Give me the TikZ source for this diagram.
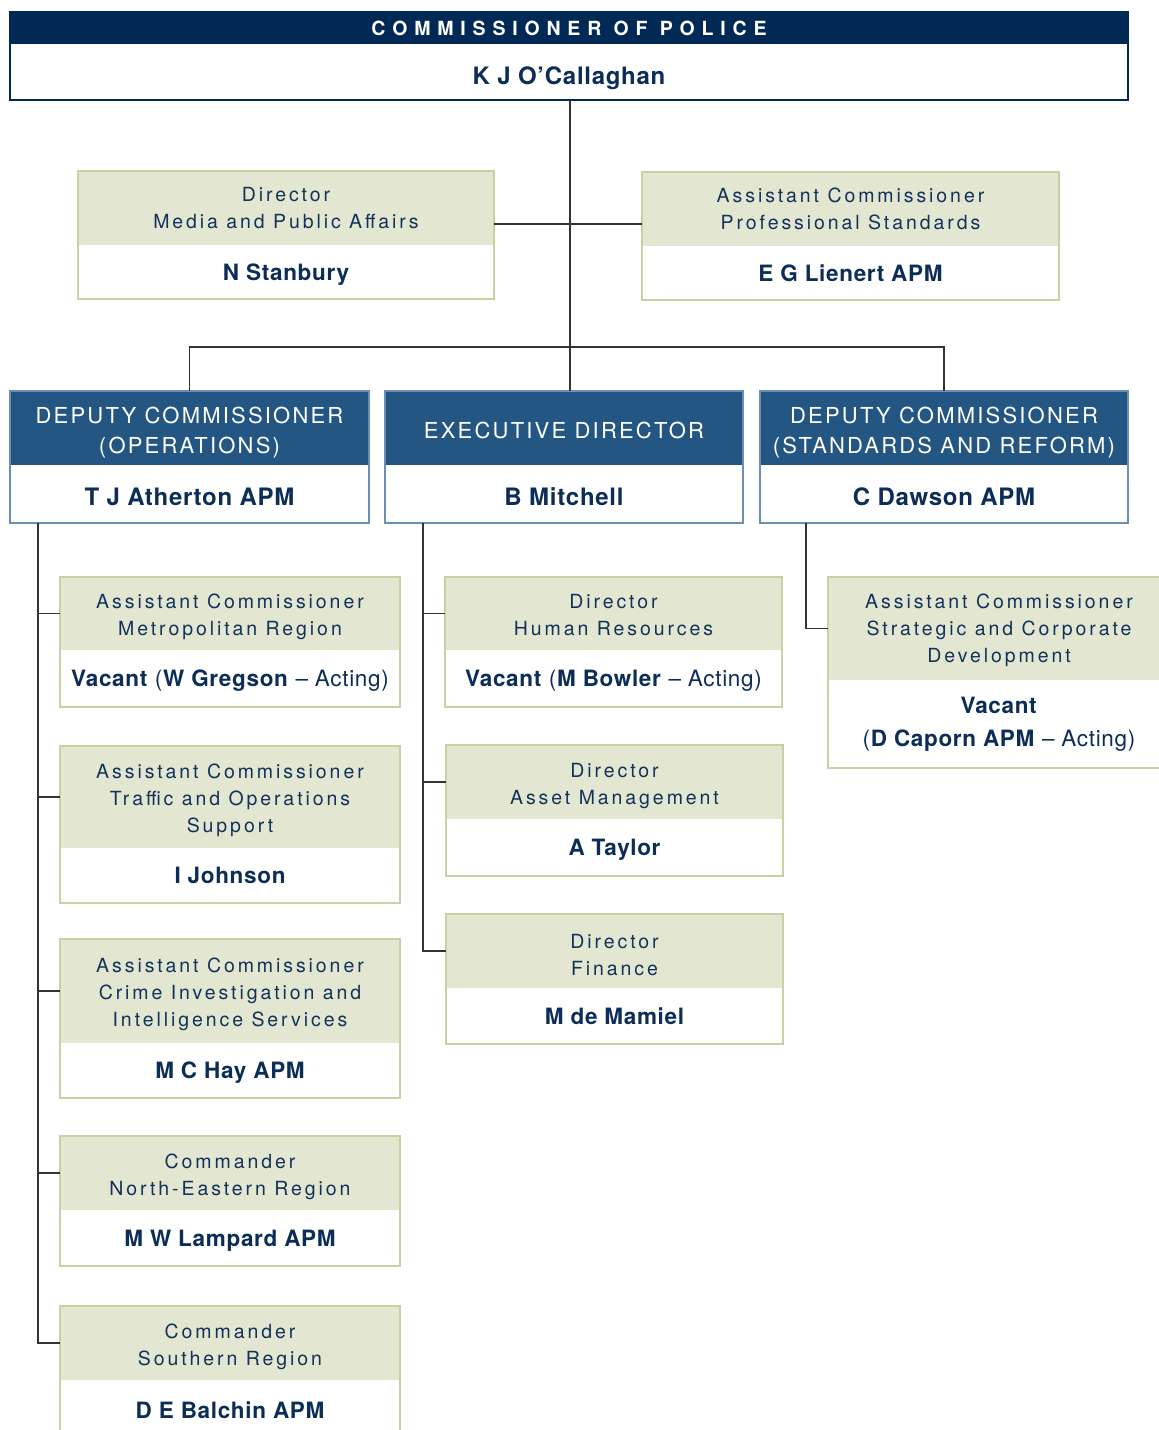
\documentclass[tikz,border=0pt]{standalone}
\usepackage{fontspec}
\setmainfont{TeX Gyre Heros}
\newfontfamily\comfont[LetterSpace=35]{TeX Gyre Heros}
\newfontfamily\depfont[LetterSpace=10]{TeX Gyre Heros}
\newfontfamily\ttlfont[LetterSpace=15]{TeX Gyre Heros}
\newfontfamily\namefont[LetterSpace=3]{TeX Gyre Heros}
\newcommand{\myup}{\rule{0pt}{21.5pt}}
\newcommand{\myhalfup}{\rule{0pt}{18pt}}
\newcommand{\mydepup}{\rule{0pt}{25pt}}
\definecolor{navy}{HTML}{002A55}
\definecolor{dblue}{HTML}{245683}
\definecolor{beige}{HTML}{E3E6D1}
\definecolor{bborder}{HTML}{C9D0A2}
\definecolor{dborder}{HTML}{6A8FB3}
\definecolor{tnavy}{HTML}{12325A}
\definecolor{nnavy}{HTML}{0B2D57}
\definecolor{lgray}{HTML}{333333}
\tikzset{
 box/.style={inner sep=0pt, outer sep=0pt, anchor=north west, align=center},
 ttl/.style={box, fill=beige, text=tnavy, font=\ttlfont\fontsize{19.5}{27}\selectfont},
 nm2/.style={box, fill=white, text=nnavy, font=\namefont\fontsize{22.5}{33}\selectfont},
 nm/.style={nm2, text height=16pt, text depth=0pt},
 bignm/.style={box, fill=white, text=nnavy, font=\namefont\fontsize{24}{33}\selectfont, text height=23pt, text depth=0pt},
 dep/.style={box, fill=dblue, text=white, font=\depfont\fontsize{22}{30}\selectfont},
 bord/.style={draw=bborder, line width=1.2pt},
 dbord/.style={draw=dborder, line width=1.2pt},
 conn/.style={draw=lgray, line width=1.3pt},
}
\begin{document}
\begin{tikzpicture}[x=1pt,y=-1pt]
\useasboundingbox[fill=white] (0,0) rectangle (1159,1430);
% connector junctions
\coordinate (j1) at (570,224);
\coordinate (bus) at (570,347);
\coordinate (lx) at (38,523);
\coordinate (mx) at (423,523);
\coordinate (rx) at (806,523);
% commissioner
\node[box, fill=navy, text=white, font=\comfont\bfseries\fontsize{19.5}{20}\selectfont, text height=14pt, text depth=0pt, minimum width=1118, minimum height=32] (comh) at (10,12) {COMMISSIONER OF POLICE};
\node[bignm, text height=24pt, minimum width=1118, minimum height=56] (comn) at (comh.south west) {\bfseries K J O’Callaghan};
% media
\node[ttl, minimum width=416, minimum height=74] (medh) at (78,171) {Director\\Media and Public Affairs};
\node[nm, minimum width=416, minimum height=54] (medn) at (medh.south west) {\bfseries N Stanbury};
% professional standards
\node[ttl, minimum width=417, minimum height=74] (profh) at (642,172) {Assistant Commissioner\\Professional Standards};
\node[nm, minimum width=417, minimum height=54] (profn) at (profh.south west) {\bfseries E G Lienert APM};
% deputies
\node[dep, minimum width=359, minimum height=74] (dep1h) at (10,391) {\mydepup DEPUTY COMMISSIONER\\(OPERATIONS)};
\node[bignm, minimum width=359, minimum height=58] (dep1n) at (dep1h.south west) {\bfseries T J Atherton APM};
\node[dep, minimum width=358, minimum height=74, text height=21pt, text depth=0pt] (dep2h) at (385,391) {EXECUTIVE DIRECTOR};
\node[bignm, minimum width=358, minimum height=58] (dep2n) at (dep2h.south west) {\bfseries B Mitchell};
\node[dep, minimum width=368, minimum height=74] (dep3h) at (760,391) {\mydepup DEPUTY COMMISSIONER\\(STANDARDS AND REFORM)};
\node[bignm, minimum width=368, minimum height=58] (dep3n) at (dep3h.south west) {\bfseries C Dawson APM};
% left column
\node[ttl, minimum width=340, minimum height=73] (a1h) at (60,577) {\myup Assistant Commissioner\\Metropolitan Region};
\node[nm, minimum width=340, minimum height=57] (a1n) at (a1h.south west) {\textbf{Vacant} (\textbf{W Gregson} – Acting)};
\node[ttl, minimum width=340, minimum height=102] (a2h) at (60,746) {\myup Assistant Commissioner\\Traffic and Operations\\Support};
\node[nm, minimum width=340, minimum height=55] (a2n) at (a2h.south west) {\bfseries I Johnson};
\node[ttl, minimum width=340, minimum height=104] (a3h) at (60,939) {\myup Assistant Commissioner\\Crime Investigation and\\Intelligence Services};
\node[nm, minimum width=340, minimum height=55] (a3n) at (a3h.south west) {\bfseries M C Hay APM};
\node[ttl, minimum width=340, minimum height=74] (a4h) at (60,1136) {\myup Commander\\North-Eastern Region};
\node[nm, minimum width=340, minimum height=56] (a4n) at (a4h.south west) {\bfseries M W Lampard APM};
\node[ttl, minimum width=340, minimum height=74] (a5h) at (60,1306) {\myup Commander\\Southern Region};
\node[nm, minimum width=340, minimum height=60] (a5n) at (a5h.south west) {\bfseries D E Balchin APM};
% middle column
\node[ttl, minimum width=337, minimum height=73] (m1h) at (445,577) {\myhalfup Director\\Human Resources};
\node[nm, minimum width=337, minimum height=57] (m1n) at (m1h.south west) {\textbf{Vacant} (\textbf{M Bowler} – Acting)};
\node[ttl, minimum width=337, minimum height=74] (m2h) at (446,745) {\myup Director\\Asset Management};
\node[nm, minimum width=337, minimum height=57] (m2n) at (m2h.south west) {\bfseries A Taylor};
\node[ttl, minimum width=337, minimum height=74] (m3h) at (446,914) {\myup Director\\Finance};
\node[nm, minimum width=337, minimum height=56] (m3n) at (m3h.south west) {\bfseries M de Mamiel};
% right column
\node[ttl, minimum width=342, minimum height=103] (rh) at (828,577) {\myhalfup Assistant Commissioner\\Strategic and Corporate\\Development};
\node[nm2, minimum width=342, minimum height=88] (rn) at (rh.south west) {\textbf{Vacant}\\(\textbf{D Caporn APM} – Acting)};
% borders
\draw[draw=navy, line width=1.2pt] (comh.north west) rectangle (comn.south east);
\foreach \b in {med,prof,a1,a2,a3,a4,a5,m1,m2,m3,r}
  \draw[bord] (\b h.north west) rectangle (\b n.south east);
\foreach \b in {dep1,dep2,dep3}
  \draw[dbord] (\b h.north west) rectangle (\b n.south east);
% connector lines
\draw[conn] (comn.south -| j1) -- (dep2h.north -| j1);
\draw[conn] (medh.east |- j1) -- (profh.west |- j1);
\draw[conn] (dep1h.north) |- (bus) -| (dep3h.north);
\draw[conn] (lx) |- (a5h.west);
\foreach \b in {a1h,a2h,a3h,a4h} \draw[conn] (lx |- \b.west) -- (\b.west);
\draw[conn] (mx) |- (m3h.west);
\foreach \b in {m1h,m2h} \draw[conn] (mx |- \b.west) -- (\b.west);
\draw[conn] (rx) |- (rh.west);
\end{tikzpicture}
\end{document}
